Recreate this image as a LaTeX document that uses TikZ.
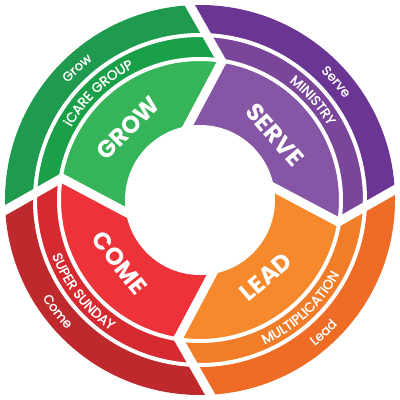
\documentclass[tikz,border=0pt]{standalone}
\usepackage{fontspec}
\setmainfont{Poppins}
\newfontfamily\popmid[FakeBold=1.6]{Poppins}
\newfontfamily\popout[FakeBold=1.1]{Poppins}
\usetikzlibrary{calc,decorations.text}
\definecolor{gO}{RGB}{31,154,78}
\definecolor{gM}{RGB}{26,160,72}
\definecolor{gI}{RGB}{54,180,90}
\definecolor{pO}{RGB}{107,53,148}
\definecolor{pM}{RGB}{122,70,153}
\definecolor{pI}{RGB}{133,86,165}
\definecolor{oO}{RGB}{238,108,37}
\definecolor{oM}{RGB}{242,125,40}
\definecolor{oI}{RGB}{246,137,43}
\definecolor{rO}{RGB}{189,41,45}
\definecolor{rM}{RGB}{214,42,49}
\definecolor{rI}{RGB}{238,50,57}
\newcommand\txtmid{\color{white}\popmid\fontsize{13.5}{13.5}\selectfont}
\newcommand\txtout{\color{white}\popout\fontsize{13}{13}\selectfont}
\tikzset{
  arctext/.style={decorate, decoration={text along path, text align=center, text={#1}}},
  inlab/.style={text=white, font=\bfseries\fontsize{24}{24}\selectfont, inner sep=0pt},
  gapline/.style={white, line width=9pt, line join=miter},
  ringgap/.style={white, line width=4pt}
}
\begin{document}
\begin{tikzpicture}
\useasboundingbox (-200pt,-200pt) rectangle (200pt,200pt);
\fill[white] (-200pt,-200pt) rectangle (200pt,200pt);
\foreach \b/\n in {90/a,0/b,-90/c,180/d}{
  \coordinate (O\n) at (\b+3:195pt);
  \coordinate (T\n) at (\b-9:140pt);
  \coordinate (I\n) at (\b+10:74pt);
  \coordinate (OE\n) at ($(T\n)!1.4!(O\n)$);
  \coordinate (IE\n) at ($(T\n)!1.25!(I\n)$);
}
\foreach \b/\L/\T/\co in {90/a/d/g, 0/b/a/p, -90/c/b/o, 180/d/c/r}{
  \begin{scope}
    \clip (OE\L) -- (T\L) -- (IE\L) -- (IE\T) -- (T\T) -- (OE\T) -- (\b+96:400pt) -- (\b+45:400pt) -- (\b+6:400pt) -- cycle;
    \fill[fill=\co O] (0,0) circle (195pt);
    \fill[fill=\co M] (0,0) circle (165pt);
    \fill[fill=\co I] (0,0) circle (141pt);
  \end{scope}
}
\fill[white] (0,0) circle (75pt);
\draw[ringgap] (0,0) circle (141pt);
\draw[ringgap] (0,0) circle (165pt);
\foreach \n in {a,b,c,d}{
  \draw[gapline] (OE\n) -- (T\n) -- (IE\n);
}
% middle ring texts
\path[arctext={|\txtmid|iCARE GROUP}] (173.5:148pt) arc[start angle=173.5, end angle=93.5, radius=148pt];
\path[arctext={|\txtmid|MINISTRY}] (81.5:148pt) arc[start angle=81.5, end angle=1.5, radius=148pt];
\path[arctext={|\txtmid|MULTIPLICATION}] (-87:158pt) arc[start angle=-87, end angle=-7, radius=158pt];
\path[arctext={|\txtmid|SUPER SUNDAY}] (178:158pt) arc[start angle=178, end angle=258, radius=158pt];
% outer ring texts
\path[arctext={|\txtout|Grow}] (173:176.5pt) arc[start angle=173, end angle=93, radius=176.5pt];
\path[arctext={|\txtout|Serve}] (81:176.5pt) arc[start angle=81, end angle=1, radius=176.5pt];
\path[arctext={|\txtout|Lead}] (-87:185.5pt) arc[start angle=-87, end angle=-7, radius=185.5pt];
\path[arctext={|\txtout|Come}] (178:185.5pt) arc[start angle=178, end angle=258, radius=185.5pt];
% inner labels
\node[inlab, rotate=45] (growlab) at (135:102pt) {GROW};
\node[inlab, rotate=-49] (servelab) at (41:99pt) {SERVE};
\node[inlab, rotate=40.6] (leadlab) at (-49.4:101pt) {LEAD};
\node[inlab, rotate=-51.8] (comelab) at (218.2:102pt) {COME};
\end{tikzpicture}
\end{document}
